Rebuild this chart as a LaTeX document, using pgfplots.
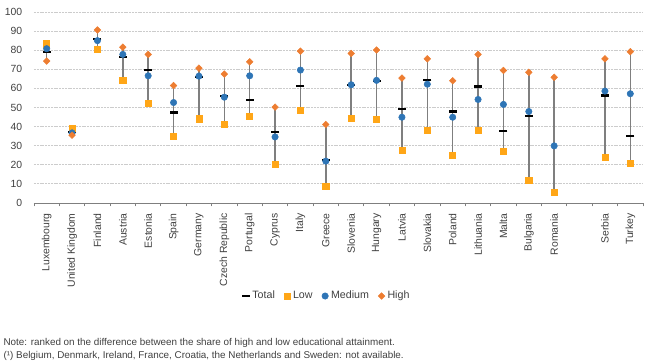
\documentclass[border=0pt]{standalone}
\usepackage{pgfplots}
\pgfplotsset{compat=1.18}
\usepackage{pgfplotstable}
\usepackage{fontspec}
\setmainfont{Liberation Sans}
\definecolor{cLow}{HTML}{FFA617}
\definecolor{cMed}{HTML}{2E75B6}
\definecolor{cHigh}{HTML}{ED7D31}
\definecolor{cTxt}{HTML}{404040}
\definecolor{cLine}{HTML}{7F7F7F}

\pgfplotstableread{
x total low med high lo hi
0 79.0 83.4 80.8 74.3 74.3 83.4
1 37.0 39.0 36.7 35.5 35.5 39.0
2 86.0 80.6 85.0 90.6 80.6 90.6
3 76.6 64.3 77.8 81.6 64.3 81.6
4 69.7 52.4 66.6 77.8 52.4 77.8
5 47.4 35.1 52.6 61.5 35.1 61.5
6 65.8 44.1 66.4 70.6 44.1 70.6
7 55.8 41.1 55.4 67.5 41.1 67.5
8 53.9 45.5 66.6 73.9 45.5 73.9
9 37.2 20.1 34.6 50.2 20.1 50.2
10 61.4 48.4 69.6 79.5 48.4 79.5
11 22.4 8.8 21.9 41.1 8.8 41.1
12 62.0 44.4 61.9 78.3 44.4 78.3
13 64.0 43.7 64.2 80.1 43.7 80.1
14 49.1 27.8 44.9 65.4 27.8 65.4
15 64.5 38.1 62.2 75.5 38.1 75.5
16 47.9 24.8 44.9 64.0 24.8 64.0
17 61.0 38.1 54.2 77.8 38.1 77.8
18 37.8 27.1 51.6 69.4 27.1 69.4
19 45.5 11.7 47.9 68.4 11.7 68.4
20 nan 5.8 29.9 65.8 5.8 65.8
22 56.3 24.0 58.6 75.5 24.0 75.5
23 35.1 21.0 57.2 79.2 21.0 79.2
}\data

\begin{document}
\begin{tikzpicture}
\useasboundingbox (0,0) rectangle (495.75pt,273pt);
\begin{axis}[
  at={(25.5pt,120.75pt)}, anchor=south west,
  width=456.75pt, height=143.25pt, scale only axis,
  xmin=-0.5, xmax=23.5, ymin=0, ymax=100,
  axis x line*=bottom, axis y line*=left,
  y axis line style={draw=none},
  x axis line style={-, cLine},
  ytick={0,10,...,100},
  ymajorgrids,
  major grid style={gray!40, line width=0.6pt, dash pattern=on 1.5pt off 0.6pt},
  ytick style={draw=none},
  xtick={0,...,23},
  xticklabels={Luxembourg,United Kingdom,Finland,Austria,Estonia,Spain,Germany,Czech Republic,Portugal,Cyprus,Italy,Greece,Slovenia,Hungary,Latvia,Slovakia,Poland,Lithuania,Malta,Bulgaria,Romania,,Serbia,Turkey},
  major x tick style={draw=none},
  minor xtick={-0.5,0.5,...,23.5},
  minor x tick style={cLine, line width=0.6pt},
  minor tick length=2.5pt,
  tick align=outside,
  xticklabel style={rotate=90, anchor=east, font=\fontsize{7.8}{9}\selectfont, text=cTxt},
  yticklabel style={font=\fontsize{7.8}{9}\selectfont, text=cTxt, xshift=-1pt},
  /pgf/number format/assume math mode=true,
  legend style={at={(0.481,-0.487)}, anchor=center, draw=none, fill=none,
    legend columns=-1, font=\fontsize{8}{9}\selectfont, text=cTxt,
    /tikz/every even column/.append style={column sep=5pt},
    legend cell align=left, inner sep=1pt},
  clip=false,
]
\addplot[draw=none, mark=none, forget plot,
  error bars/.cd, y dir=plus, y explicit, error mark=none,
  error bar style={cLine, line width=1.1pt}]
  table[x=x, y=lo, y error expr=\thisrow{hi}-\thisrow{lo}] {\data};
\addplot[only marks, mark=-, mark size=3pt, mark options={line width=1.6pt, black}] table[x=x, y=total] {\data};
\addplot[only marks, mark=square*, mark size=2.3pt, mark options={fill=cLow, draw=cLow}] table[x=x, y=low] {\data};
\addplot[only marks, mark=*, mark size=2.4pt, mark options={fill=cMed, draw=cMed}] table[x=x, y=med] {\data};
\addplot[only marks, mark=square*, mark size=1.75pt, mark options={fill=cHigh, draw=cHigh, rotate=45}] table[x=x, y=high] {\data};
\legend{Total,Low,Medium,High}
\end{axis}
\node[anchor=west, inner sep=0pt, font=\fontsize{7.4}{8}\selectfont, text=cTxt] at (2.5pt,15.75pt) {Note: ranked on the difference between the share of high and low educational attainment.};
\node[anchor=west, inner sep=0pt, font=\fontsize{7.4}{8}\selectfont, text=cTxt] at (2.5pt,6pt) {(¹) Belgium, Denmark, Ireland, France, Croatia, the Netherlands and Sweden: not available.};
\end{tikzpicture}
\end{document}
